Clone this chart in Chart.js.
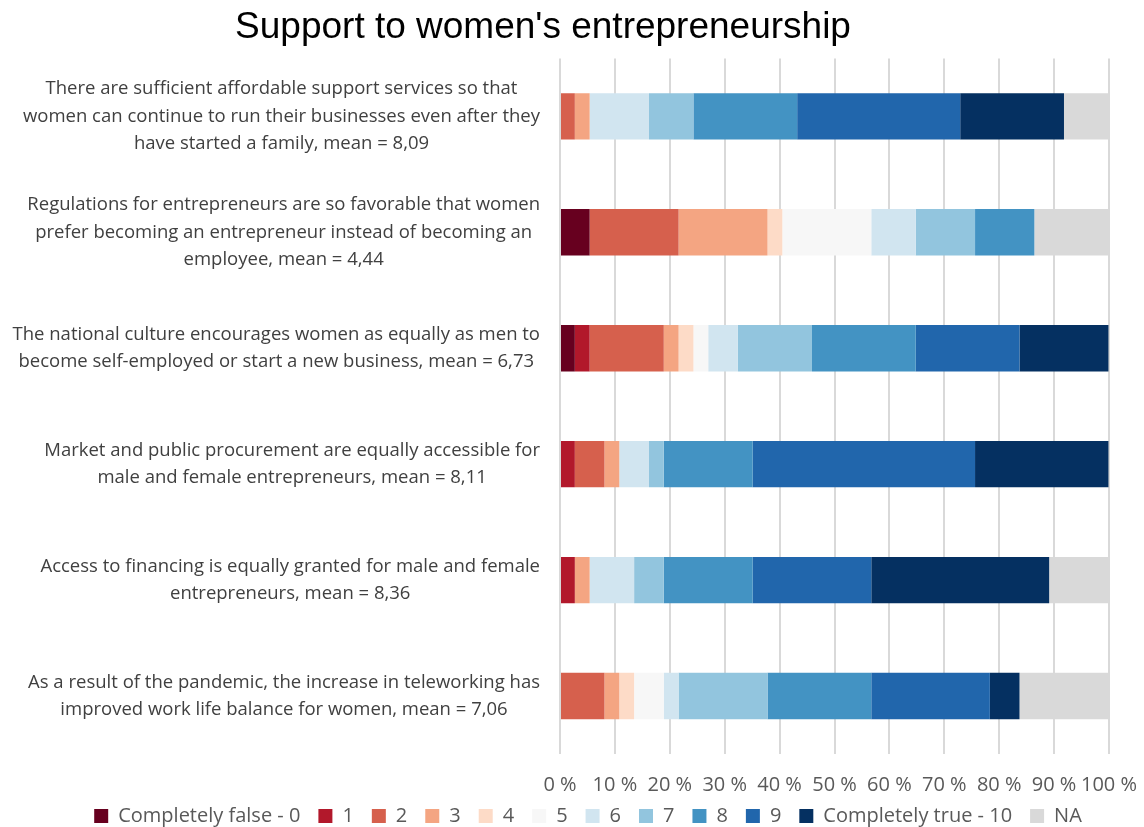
<!DOCTYPE html>
<html lang="en">
<head>
    <meta charset="UTF-8">
    <title>Support to women's entrepreneurship</title>
    <style>
        html, body { margin: 0; padding: 0; background: #ffffff; }
        #wrap { width: 1144px; height: 827px; }
    </style>
</head>
<body>
    <div id="wrap"><canvas id="myChart"></canvas></div>

    <script src="https://cdn.jsdelivr.net/npm/chart.js@4.4.1/dist/chart.umd.min.js"></script>
    <script type="text/javascript">
    // statements, one array of lines per bar
    const questions = [
        ["There are sufficient affordable support services so that",
         "women can continue to run their businesses even after they",
         "have started a family, mean = 8,09"],
        ["Regulations for entrepreneurs are so favorable that women",
         "prefer becoming an entrepreneur instead of becoming an",
         "employee, mean = 4,44"],
        ["The national culture encourages women as equally as men to",
         "become self-employed or start a new business, mean = 6,73"],
        ["Market and public procurement are equally accessible for",
         "male and female entrepreneurs, mean = 8,11"],
        ["Access to financing is equally granted for male and female",
         "entrepreneurs, mean = 8,36"],
        ["As a result of the pandemic, the increase in teleworking has",
         "improved work life balance for women, mean = 7,06"]
    ];

    const answerLabels = ["Completely false - 0", "1", "2", "3", "4", "5", "6", "7", "8", "9", "Completely true - 10", "NA"];

    // share of answers (%) per score, same order as questions
    const score0  = [0, 5.4, 2.7, 0, 0, 0];
    const score1  = [0, 0, 2.7, 2.7, 2.7, 0];
    const score2  = [2.7, 16.2, 13.5, 5.4, 0, 8.1];
    const score3  = [2.7, 16.2, 2.7, 2.7, 2.7, 2.7];
    const score4  = [0, 2.7, 2.7, 0, 0, 2.7];
    const score5  = [0, 16.2, 2.7, 0, 0, 5.4];
    const score6  = [10.8, 8.1, 5.4, 5.4, 8.1, 2.7];
    const score7  = [8.1, 10.8, 13.5, 2.7, 5.4, 16.2];
    const score8  = [18.9, 10.8, 18.9, 16.2, 16.2, 18.9];
    const score9  = [29.7, 0, 18.9, 40.5, 21.6, 21.6];
    const score10 = [18.9, 0, 16.2, 24.3, 32.4, 5.4];
    const noAnswer = [8.1, 13.5, 0, 0, 10.8, 16.2];

    const seriesValues = [score0, score1, score2, score3, score4, score5,
                          score6, score7, score8, score9, score10, noAnswer];

    const xTicks = [0, 10, 20, 30, 40, 50, 60, 70, 80, 90, 100];

    const palette = ['#67001f', '#b2182b', '#d6604d', '#f4a582', '#fddbc7', '#f7f7f7',
                     '#d1e5f0', '#92c5de', '#4393c3', '#2166ac', '#053061', '#d9d9d9'];

    // statement text: block sits against the axis, lines centred inside the block
    const statementLabels = {
        id: 'statementLabels',
        afterDraw(chart) {
            const ctx = chart.ctx;
            const y = chart.scales.y;
            ctx.save();
            ctx.font = '18.5px "Open Sans"';
            ctx.fillStyle = '#404040';
            ctx.textAlign = 'center';
            ctx.textBaseline = 'middle';
            questions.forEach((lines, i) => {
                const yc = y.getPixelForValue(i);
                const w = Math.max(...lines.map(l => ctx.measureText(l).width));
                const xc = y.right - 20 - w / 2;
                lines.forEach((line, k) => {
                    ctx.fillText(line, xc, yc + (k - (lines.length - 1) / 2) * 27.5);
                });
            });
            ctx.restore();
        }
    };

    // title centred a bit left of the canvas middle, legend nudged up and right
    const boxOffsets = {
        id: 'boxOffsets',
        afterLayout(chart) {
            const t = chart.titleBlock;
            t.left = 0;
            t.right = 1086;
            const lg = chart.legend;
            lg.top -= 9;
            lg.left += 16;
            lg.right += 16;
        }
    };

    const ctx = document.getElementById('myChart').getContext('2d');
    const chart = new Chart(ctx, {
        type: 'bar',
        data: {
            labels: questions,
            datasets: answerLabels.map((name, i) => ({
                label: name,
                data: seriesValues[i],
                backgroundColor: palette[i],
                borderWidth: 0,
                categoryPercentage: 1,
                barPercentage: 0.4
            }))
        },
        options: {
            indexAxis: 'y',
            responsive: true,
            maintainAspectRatio: false,
            animation: false,
            layout: { padding: 0 },
            scales: {
                x: {
                    stacked: true,
                    min: 0,
                    max: 100,
                    afterBuildTicks(scale) {
                        scale.ticks = xTicks.map(v => ({ value: v }));
                    },
                    afterFit(scale) {
                        scale.height = 43;
                        scale.paddingRight = 35;
                    },
                    border: { display: false },
                    grid: { color: '#d9d9d9', lineWidth: 2, drawTicks: false },
                    ticks: {
                        padding: 19,
                        color: '#595959',
                        autoSkip: false,
                        minRotation: 0,
                        maxRotation: 0,
                        font: { family: 'Open Sans', size: 20 },
                        callback: v => v + ' %'
                    }
                },
                y: {
                    stacked: true,
                    afterFit(scale) { scale.width = 560; },
                    border: { display: false },
                    grid: { display: false, drawTicks: false },
                    ticks: { display: false }
                }
            },
            plugins: {
                title: {
                    display: true,
                    text: "Support to women's entrepreneurship",
                    color: '#000000',
                    font: { family: 'Liberation Sans', size: 37, weight: 'normal' },
                    padding: { top: 6, bottom: 8 }
                },
                legend: {
                    position: 'bottom',
                    maxHeight: 30,
                    labels: {
                        boxWidth: 14,
                        boxHeight: 14,
                        padding: 18,
                        color: '#595959',
                        font: { family: 'Open Sans', size: 20 }
                    }
                },
                tooltip: { enabled: false }
            }
        },
        plugins: [statementLabels, boxOffsets]
    });
    </script>
</body>
</html>
